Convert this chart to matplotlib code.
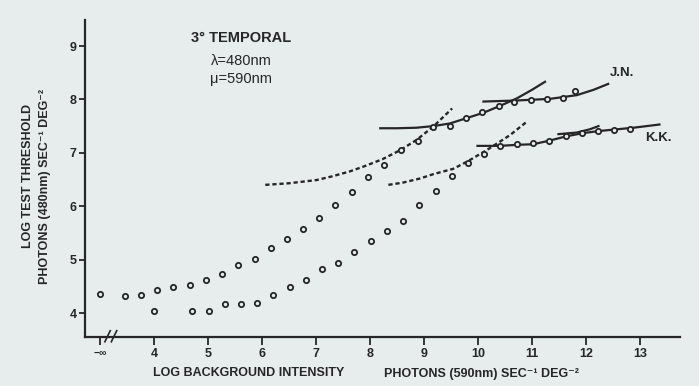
import matplotlib
matplotlib.use("Agg")
import matplotlib.pyplot as plt
import matplotlib.transforms as mtransforms

# threshold data, log units; x = 3 stands for "-inf" (no background)
jn_x = [3.0, 3.46, 3.76, 4.06, 4.36, 4.67, 4.96, 5.26, 5.56, 5.87, 6.17, 6.47, 6.76, 7.06, 7.36,
        7.67, 7.97, 8.26, 8.57, 8.88, 9.17, 9.48, 9.77, 10.07, 10.38, 10.67, 10.98, 11.27, 11.57, 11.8]
jn_y = [4.35, 4.32, 4.34, 4.44, 4.48, 4.52, 4.61, 4.73, 4.89, 5.02, 5.21, 5.38, 5.58, 5.77, 6.02,
        6.27, 6.54, 6.78, 7.06, 7.23, 7.49, 7.51, 7.66, 7.76, 7.88, 7.96, 7.98, 8.0, 8.02, 8.16]

kk_x = [4.0, 4.71, 5.01, 5.31, 5.61, 5.9, 6.21, 6.51, 6.81, 7.11, 7.41, 7.70, 8.01, 8.32, 8.61,
        8.91, 9.22, 9.51, 9.81, 10.11, 10.41, 10.72, 11.01, 11.32, 11.62, 11.92, 12.22, 12.52, 12.81]
kk_y = [4.04, 4.04, 4.04, 4.17, 4.17, 4.18, 4.34, 4.48, 4.62, 4.82, 4.94, 5.14, 5.34, 5.53, 5.72,
        6.02, 6.28, 6.56, 6.81, 6.97, 7.12, 7.16, 7.18, 7.23, 7.31, 7.38, 7.40, 7.42, 7.45]

# fitted template curves
jn_dash_x = [6.06, 6.5, 7.01, 7.3, 7.62, 7.9, 8.23, 8.56, 8.86, 9.17, 9.52]
jn_dash_y = [6.40, 6.43, 6.49, 6.56, 6.65, 6.75, 6.88, 7.05, 7.24, 7.49, 7.83]
jn_solid1_x = [8.19, 8.5, 8.86, 9.17, 9.48, 9.79, 10.10, 10.41, 10.72, 11.0, 11.24]
jn_solid1_y = [7.46, 7.46, 7.47, 7.50, 7.55, 7.65, 7.75, 7.88, 8.02, 8.18, 8.33]
jn_solid2_x = [10.10, 10.72, 11.33, 11.83, 12.14, 12.41]
jn_solid2_y = [7.96, 7.98, 8.01, 8.08, 8.18, 8.29]

kk_dash_x = [8.34, 8.6, 8.93, 9.17, 9.54, 9.79, 10.16, 10.59, 10.90]
kk_dash_y = [6.40, 6.44, 6.52, 6.60, 6.70, 6.83, 7.05, 7.33, 7.58]
kk_solid1_x = [9.99, 10.41, 10.72, 11.02, 11.33, 11.64, 11.95, 12.26, 12.57, 12.88, 13.36]
kk_solid1_y = [7.13, 7.13, 7.15, 7.16, 7.23, 7.31, 7.37, 7.41, 7.44, 7.47, 7.53]
kk_solid2_x = [11.49, 11.83, 12.07, 12.23]
kk_solid2_y = [7.35, 7.38, 7.44, 7.50]

x_ticks = [3, 4, 5, 6, 7, 8, 9, 10, 11, 12, 13]
x_labels = ["\u2212\u221e", "4", "5", "6", "7", "8", "9", "10", "11", "12", "13"]
y_ticks = [4, 5, 6, 7, 8, 9]

bg = "#e7eded"
ink = "#262626"
fam = ["Liberation Sans", "DejaVu Sans"]
plt.rcParams["font.family"] = fam

W, H = 699, 386
fig = plt.figure(figsize=(W / 100, H / 100), dpi=100, facecolor=bg)
ax = fig.add_axes([85 / W, 1 - 337 / H, 595 / W, 317 / H], facecolor=bg)

for cx, cy in [(jn_dash_x, jn_dash_y), (kk_dash_x, kk_dash_y)]:
    ax.plot(cx, cy, color=ink, lw=1.7, dashes=(1.8, 1.2), zorder=2)
for cx, cy in [(jn_solid1_x, jn_solid1_y), (jn_solid2_x, jn_solid2_y),
               (kk_solid1_x, kk_solid1_y), (kk_solid2_x, kk_solid2_y)]:
    ax.plot(cx, cy, color=ink, lw=1.6, zorder=2)

for sx, sy in [(jn_x, jn_y), (kk_x, kk_y)]:
    ax.plot(sx, sy, ls="none", marker="o", ms=3.8, mew=1.3, mec=ink, mfc=bg, zorder=3)

ax.set_xlim(2.722, 13.74)
ax.set_ylim(3.551, 9.487)
ax.spines["top"].set_visible(False)
ax.spines["right"].set_visible(False)
for s in ["left", "bottom"]:
    ax.spines[s].set_linewidth(1.6)
    ax.spines[s].set_color(ink)

ax.set_xticks(x_ticks)
ax.set_xticklabels(x_labels)
ax.set_yticks(y_ticks)
ax.tick_params(axis="both", direction="out", width=1.3, color=ink, labelcolor=ink)
ax.tick_params(axis="x", length=6, pad=2, labelsize=9)
ax.tick_params(axis="y", length=4, pad=2, labelsize=9)
for lab in ax.get_xticklabels() + ax.get_yticklabels():
    lab.set_fontweight("bold")
ax.get_xticklabels()[0].set_fontsize(7.5)

# axis break marks
tr = mtransforms.blended_transform_factory(ax.transData, ax.transAxes)
for bx in [3.14, 3.26]:
    ax.plot([bx - 0.05, bx + 0.05], [-0.015, 0.02], color=ink, lw=1.2,
            transform=tr, clip_on=False)

def ftext(px, py, s, **kw):
    fig.text(px / W, 1 - py / H, s, ha="center", va="center", color=ink,
             family=fam, **kw)

ftext(241, 38, "3\u00b0 TEMPORAL", fontsize=10.5, fontweight="bold")
ftext(241, 61, "\u03bb=480nm", fontsize=10.5)
ftext(241, 79, "\u03bc=590nm", fontsize=10.5)
ftext(622, 73, "J.N.", fontsize=9.5, fontweight="bold")
ftext(658, 138, "K.K.", fontsize=9.5, fontweight="bold")

ftext(249, 373, "LOG BACKGROUND INTENSITY", fontsize=9, fontweight="bold")
ftext(481, 374, "PHOTONS (590nm) SEC\u207b\u00b9 DEG\u207b\u00b2", fontsize=9, fontweight="bold")
ftext(28, 176, "LOG TEST THRESHOLD", fontsize=9, fontweight="bold", rotation=90)
ftext(45, 187, "PHOTONS (480nm) SEC\u207b\u00b9 DEG\u207b\u00b2", fontsize=9, fontweight="bold",
      rotation=90)

fig.savefig("out.png", dpi=100, facecolor=bg)
